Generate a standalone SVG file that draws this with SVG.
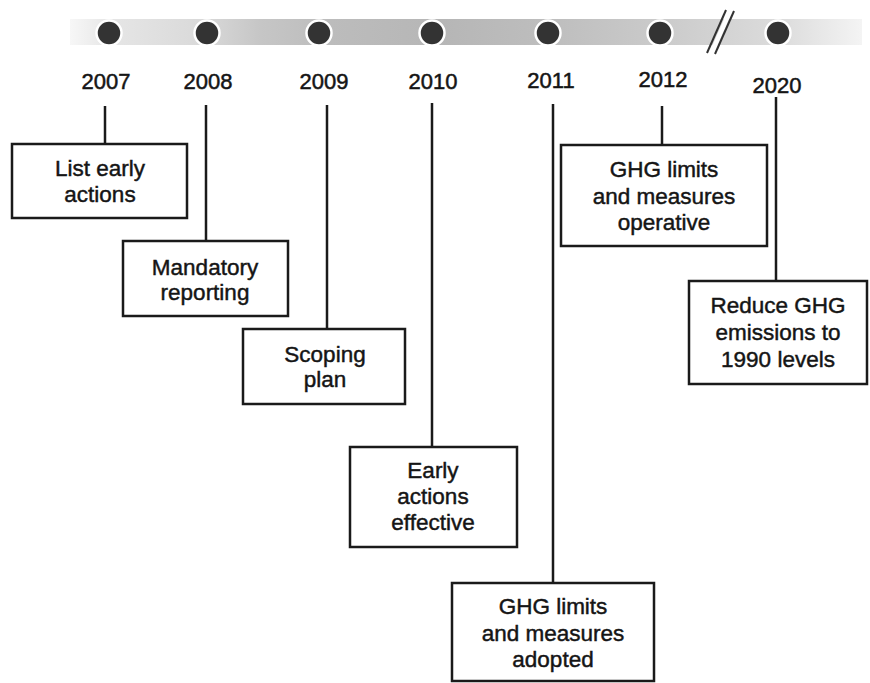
<svg xmlns="http://www.w3.org/2000/svg" width="870" height="683" viewBox="0 0 870 683">
<defs>
<linearGradient id="band" gradientUnits="userSpaceOnUse" x1="70" y1="0" x2="862" y2="0">
<stop offset="0" stop-color="#f7f7f7"/>
<stop offset="0.05" stop-color="#e6e6e6"/>
<stop offset="0.17" stop-color="#d9d9d9"/>
<stop offset="0.24" stop-color="#c6c6c6"/>
<stop offset="0.33" stop-color="#bcbcbc"/>
<stop offset="0.47" stop-color="#b6b6b6"/>
<stop offset="0.61" stop-color="#bebebe"/>
<stop offset="0.75" stop-color="#cbcbcb"/>
<stop offset="0.90" stop-color="#dcdcdc"/>
<stop offset="1" stop-color="#f4f4f4"/>
</linearGradient>
</defs>
<style>
.dot{fill:#333;stroke:#fff;stroke-width:2.5}
.yr{font-family:"Liberation Sans",Arial,sans-serif;font-size:22px;fill:#151515;stroke:#151515;stroke-width:0.5;text-anchor:middle}
.box{fill:#fff;stroke:#1a1a1a;stroke-width:2.5}
.lbl{font-family:"Liberation Sans",Arial,sans-serif;font-size:22.5px;fill:#151515;stroke:#151515;stroke-width:0.45;text-anchor:middle}
.con{stroke:#1a1a1a;stroke-width:2.5;fill:none}
</style>
<rect width="870" height="683" fill="#fff"/>
<g id="timeline">
<rect x="70" y="19" width="792" height="26" fill="url(#band)"/>
<polygon points="709,53 728,10 733,10 714,53" fill="#fff"/>
<line x1="707" y1="53" x2="726" y2="10" stroke="#333" stroke-width="2"/>
<line x1="715" y1="54" x2="734" y2="11" stroke="#333" stroke-width="2"/>
<circle class="dot" cx="109" cy="33" r="12.5"/>
<circle class="dot" cx="207" cy="33" r="12.5"/>
<circle class="dot" cx="319" cy="33" r="12.5"/>
<circle class="dot" cx="432" cy="33" r="12.5"/>
<circle class="dot" cx="548" cy="33" r="12.5"/>
<circle class="dot" cx="660" cy="33" r="12.5"/>
<circle class="dot" cx="778" cy="33" r="12.5"/>
<text class="yr" x="106" y="89">2007</text>
<text class="yr" x="208" y="89">2008</text>
<text class="yr" x="324" y="89">2009</text>
<text class="yr" x="433" y="89">2010</text>
<text class="yr" x="551" y="88">2011</text>
<text class="yr" x="663" y="87">2012</text>
<text class="yr" x="777" y="93">2020</text>
</g>
<g id="connectors">
<line class="con" x1="105" y1="106" x2="105" y2="144"/>
<line class="con" x1="206" y1="105" x2="206" y2="241"/>
<line class="con" x1="327" y1="105" x2="327" y2="329"/>
<line class="con" x1="432" y1="103" x2="432" y2="447"/>
<line class="con" x1="553" y1="104" x2="553" y2="583"/>
<line class="con" x1="662" y1="106" x2="662" y2="145"/>
<line class="con" x1="776" y1="97" x2="776" y2="281"/>
</g>
<g id="n2007">
<rect class="box" x="12" y="144" width="175" height="74"/>
<text class="lbl" x="100" y="176">List early</text>
<text class="lbl" x="100" y="202">actions</text>
</g>
<g id="n2008">
<rect class="box" x="123" y="241" width="165" height="75"/>
<text class="lbl" x="205" y="275">Mandatory</text>
<text class="lbl" x="205" y="300">reporting</text>
</g>
<g id="n2009">
<rect class="box" x="243" y="329" width="162" height="75"/>
<text class="lbl" x="325" y="362">Scoping</text>
<text class="lbl" x="325" y="387">plan</text>
</g>
<g id="n2010">
<rect class="box" x="350" y="447" width="167" height="100"/>
<text class="lbl" x="433" y="478">Early</text>
<text class="lbl" x="433" y="504">actions</text>
<text class="lbl" x="433" y="530">effective</text>
</g>
<g id="n2011">
<rect class="box" x="452" y="583" width="202" height="98"/>
<text class="lbl" x="553" y="614">GHG limits</text>
<text class="lbl" x="553" y="641">and measures</text>
<text class="lbl" x="553" y="667">adopted</text>
</g>
<g id="n2012">
<rect class="box" x="561" y="145" width="206" height="101"/>
<text class="lbl" x="664" y="177">GHG limits</text>
<text class="lbl" x="664" y="204">and measures</text>
<text class="lbl" x="664" y="230">operative</text>
</g>
<g id="n2020">
<rect class="box" x="689" y="281" width="178" height="103"/>
<text class="lbl" x="778" y="313">Reduce GHG</text>
<text class="lbl" x="778" y="340">emissions to</text>
<text class="lbl" x="778" y="367">1990 levels</text>
</g>
</svg>
